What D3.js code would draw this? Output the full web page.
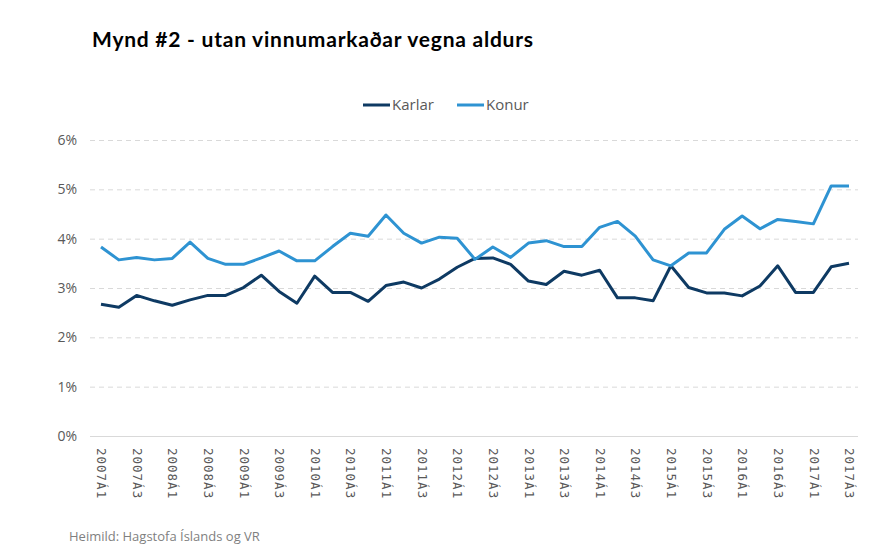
<!DOCTYPE html>
<html>
<head>
<meta charset="utf-8">
<script src="https://cdn.jsdelivr.net/npm/d3@7"></script>
<style>
  body { margin: 0; background: #fff; }
  svg { display: block; }
</style>
</head>
<body>
<svg id="chart" width="883" height="560"></svg>
<script>
// quarters 2007Á1 .. 2017Á3
var years = d3.range(2007, 2018);
var quarters = [];
years.forEach(function (y) {
    [1, 2, 3, 4].forEach(function (q) {
        if (y === 2017 && q === 4) return;
        quarters.push(y + "Á" + q);
    });
});

var karlar = [2.67, 2.61, 2.85, 2.74, 2.65, 2.76, 2.85, 2.85, 3.01, 3.26,
              2.93, 2.69, 3.24, 2.91, 2.91, 2.73, 3.05, 3.12, 3.00, 3.18,
              3.42, 3.60, 3.61, 3.48, 3.14, 3.07, 3.34, 3.26, 3.36, 2.80,
              2.80, 2.74, 3.45, 3.01, 2.90, 2.90, 2.84, 3.04, 3.45, 2.91,
              2.91, 3.43, 3.50];
var konur = [3.83, 3.57, 3.62, 3.57, 3.60, 3.93, 3.60, 3.48, 3.48, 3.61,
             3.75, 3.55, 3.55, 3.84, 4.11, 4.05, 4.48, 4.11, 3.91, 4.03,
             4.01, 3.58, 3.83, 3.62, 3.91, 3.96, 3.84, 3.84, 4.23, 4.35,
             4.05, 3.57, 3.45, 3.71, 3.71, 4.19, 4.46, 4.20, 4.39, 4.35,
             4.30, 5.07, 5.07];
var yTicks = [0, 1, 2, 3, 4, 5, 6];

var series = [
    { name: "Karlar", values: karlar, color: "#0e3a63" },
    { name: "Konur", values: konur, color: "#2e93d2" }
];

var svg = d3.select("#chart");

var x = d3.scalePoint().domain(quarters).range([101, 849]);
var y = d3.scaleLinear().domain([0, 6]).range([436, 140]);

// title
svg.append("text")
    .attr("x", 92).attr("y", 47)
    .attr("font-family", "Lato, 'Open Sans', sans-serif")
    .attr("font-weight", "bold")
    .attr("font-size", 21)
    .attr("textLength", 441)
    .attr("fill", "#000")
    .text("Mynd #2 - utan vinnumarkaðar vegna aldurs");

// y grid + labels
var yAxis = svg.append("g")
    .attr("transform", "translate(90,0)")
    .call(d3.axisLeft(y).tickValues(yTicks).tickSize(-768)
        .tickFormat(function (d) { return d + "%"; }));
yAxis.select(".domain").remove();
yAxis.selectAll(".tick line")
    .attr("stroke", "#d9d9d9")
    .attr("stroke-dasharray", function (d) { return d === 0 ? null : "5,4"; });
yAxis.selectAll(".tick text")
    .attr("x", -13)
    .attr("fill", "#595959")
    .attr("font-family", "'Open Sans', sans-serif")
    .attr("font-size", 14);

// x labels
var xAxis = svg.append("g")
    .attr("transform", "translate(0,436)")
    .call(d3.axisBottom(x)
        .tickValues(quarters.filter(function (d, i) { return i % 2 === 0; }))
        .tickSize(0));
xAxis.select(".domain").remove();
xAxis.selectAll(".tick text")
    .attr("transform", "rotate(90)")
    .attr("x", 12).attr("y", 0).attr("dy", "0.35em")
    .attr("text-anchor", "start")
    .attr("fill", "#595959")
    .attr("font-family", "'DejaVu Sans Mono', monospace")
    .attr("font-size", 12.5)
    .attr("letter-spacing", 1);

// lines
var line = d3.line()
    .x(function (d, i) { return x(quarters[i]); })
    .y(function (d) { return y(d); });

series.forEach(function (s) {
    svg.append("path")
        .datum(s.values)
        .attr("d", line)
        .attr("fill", "none")
        .attr("stroke", s.color)
        .attr("stroke-width", 3)
        .attr("stroke-linejoin", "round");
});

// legend
var legendX = [363, 457];
series.forEach(function (s, i) {
    var g = svg.append("g").attr("transform", "translate(" + legendX[i] + ",105)");
    g.append("line").attr("x1", 0).attr("x2", 27)
        .attr("stroke", s.color).attr("stroke-width", 3);
    g.append("text").attr("x", 29).attr("dy", "0.35em")
        .attr("fill", "#595959")
        .attr("font-family", "'Open Sans', sans-serif")
        .attr("font-size", 15)
        .text(s.name);
});

// source
svg.append("text")
    .attr("x", 69).attr("y", 541)
    .attr("fill", "#7f7f7f")
    .attr("font-family", "'Open Sans', sans-serif")
    .attr("font-size", 13)
    .text("Heimild: Hagstofa Íslands og VR");
</script>
</body>
</html>
